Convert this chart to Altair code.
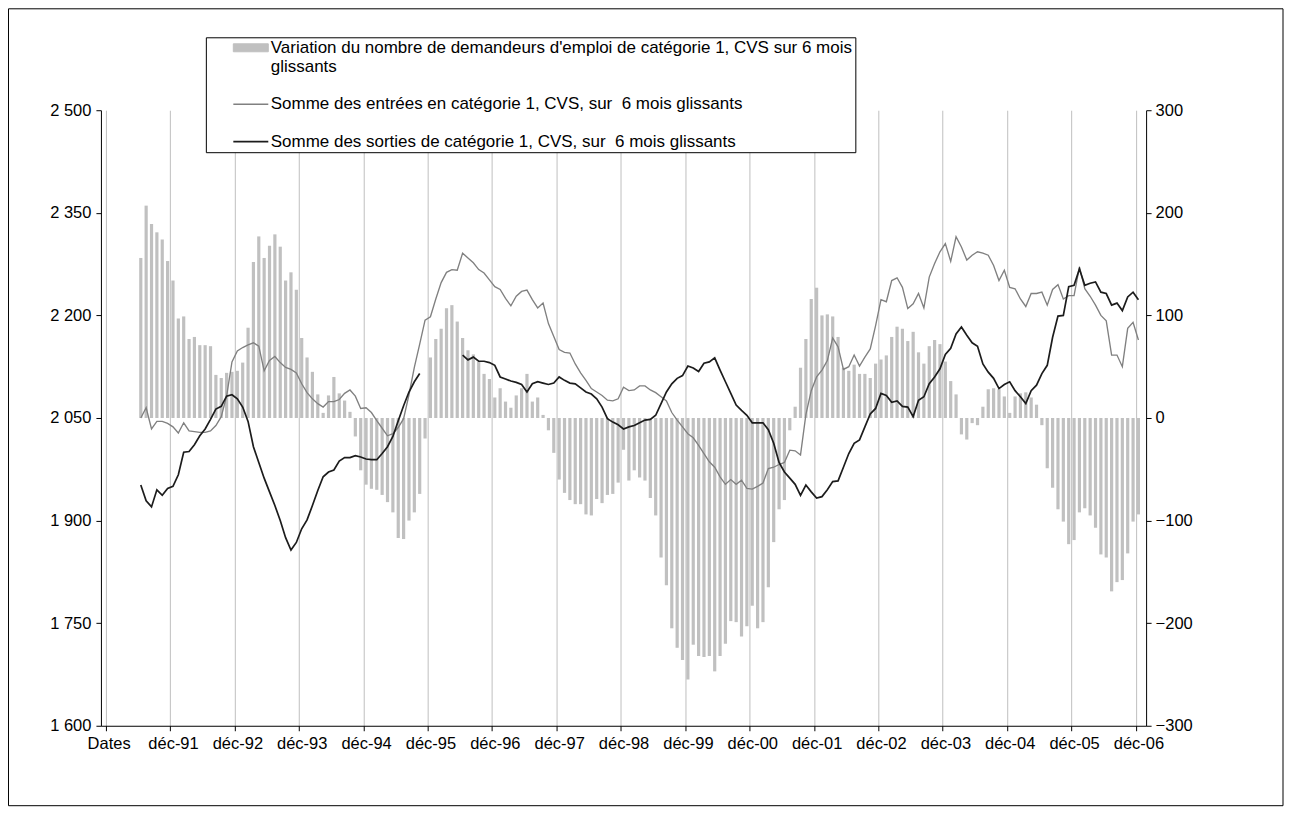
import json
import altair as alt
import pandas as pd

# ---------------- data ----------------
# monthly values, juin-91 ... déc-06 (187 months)
variation = [
    156, 207, 189, 181, 174, 153, 134, 97, 99, 77, 79, 71, 71, 70, 42, 39, 44, 45, 46, 54,
    88, 152, 177, 156, 168, 179, 167, 134, 142, 125, 78, 59, 45, 23, 5, 22, 40, 24, 17, 6,
    -18, -51, -65, -69, -70, -75, -82, -92, -117, -118, -100, -92, -74, -20, 59, 77, 87, 107, 110, 94,
    78, 66, 62, 55, 43, 38, 20, 29, 16, 10, 22, 29, 43, 16, 20, 3, -12, -34, -60, -73,
    -80, -84, -84, -94, -95, -79, -83, -75, -74, -63, -31, -61, -51, -58, -61, -78, -95, -136, -163, -205,
    -224, -236, -255, -221, -232, -233, -232, -247, -232, -220, -198, -199, -213, -203, -183, -205, -199, -165, -121, -89,
    -80, -12, 11, 49, 77, 116, 127, 100, 101, 99, 79, 49, 46, 52, 43, 43, 39, 53, 57, 61,
    79, 89, 87, 75, 84, 64, 53, 70, 76, 72, 55, 36, 23, -16, -21, -5, -7, 11, 28, 29,
    28, 21, 5, 21, 24, 25, 20, 13, -7, -49, -68, -89, -101, -123, -119, -92, -88, -95, -107, -133,
    -136, -169, -160, -158, -132, -101, -94,
]

entrees = [
    2050, 2065, 2034, 2045, 2045, 2042, 2037, 2028, 2043, 2031, 2030, 2029, 2029, 2031, 2039, 2052, 2082, 2132, 2148, 2153,
    2157, 2160, 2155, 2119, 2134, 2140, 2131, 2124, 2121, 2116, 2100, 2087, 2078, 2071, 2066, 2074, 2074, 2077, 2086, 2091,
    2082, 2064, 2065, 2058, 2046, 2035, 2024, 2027, 2036, 2049, 2084, 2124, 2158, 2193, 2198, 2224, 2248, 2263, 2267, 2266,
    2291, 2284, 2277, 2267, 2262, 2252, 2242, 2238, 2225, 2214, 2228, 2235, 2237, 2223, 2211, 2218, 2188, 2169, 2150, 2146,
    2145, 2129, 2116, 2105, 2093, 2088, 2083, 2076, 2075, 2078, 2095, 2090, 2091, 2097, 2097, 2091, 2087, 2081, 2075, 2058,
    2047, 2037, 2027, 2021, 2010, 1998, 1986, 1978, 1964, 1953, 1960, 1953, 1959, 1947, 1946, 1950, 1955, 1976, 1978, 1982,
    1985, 2003, 2002, 1996, 2055, 2090, 2110, 2120, 2134, 2167, 2154, 2121, 2125, 2142, 2126, 2139, 2151, 2185, 2223, 2220,
    2251, 2255, 2241, 2210, 2217, 2232, 2211, 2256, 2276, 2293, 2305, 2279, 2315, 2300, 2281, 2288, 2293, 2291, 2288, 2273,
    2251, 2266, 2241, 2239, 2224, 2213, 2232, 2232, 2234, 2215, 2238, 2245, 2224, 2229, 2229, 2271, 2239, 2228, 2215, 2200,
    2192, 2142, 2142, 2125, 2181, 2190, 2164,
]

sorties = [
    1952, 1929, 1920, 1945, 1937, 1947, 1950, 1967, 2000, 2001, 2011, 2024, 2034, 2048, 2063, 2067, 2082, 2084, 2078, 2066,
    2045, 2008, 1985, 1962, 1942, 1922, 1900, 1875, 1857, 1868, 1888, 1901, 1922, 1944, 1964, 1971, 1974, 1987, 1992, 1992,
    1995, 1993, 1990, 1989, 1989, 1998, 2008, 2023, 2046, 2068, 2088, 2103, 2115, None, None, None, None, None, None, None,
    2142, 2135, 2139, 2133, 2133, 2131, 2127, 2110, 2107, 2104, 2102, 2099, 2088, 2100, 2103, 2101, 2099, 2101, 2110, 2105,
    2101, 2100, 2094, 2088, 2085, 2078, 2066, 2049, 2044, 2040, 2034, 2037, 2039, 2043, 2047, 2048, 2054, 2071, 2088, 2100,
    2108, 2112, 2126, 2123, 2118, 2130, 2132, 2138, 2120, 2103, 2086, 2069, 2061, 2054, 2043, 2043, 2043, 2033, 2013, 1985,
    1971, 1962, 1953, 1937, 1952, 1942, 1933, 1935, 1945, 1957, 1958, 1978, 1998, 2013, 2018, 2037, 2056, 2064, 2086, 2083,
    2073, 2075, 2067, 2066, 2052, 2076, 2081, 2100, 2110, 2122, 2143, 2152, 2173, 2183, 2171, 2160, 2155, 2129, 2117, 2108,
    2093, 2099, 2103, 2090, 2081, 2071, 2090, 2098, 2115, 2127, 2168, 2199, 2200, 2242, 2244, 2268, 2244, 2247, 2249, 2234,
    2232, 2215, 2218, 2207, 2227, 2234, 2223,
]

mois_courts = ["janv", "févr", "mars", "avr", "mai", "juin", "juil", "août", "sept", "oct", "nov", "déc"]
annees = list(range(1991, 2007))
# category axis of the sheet: header cell "Dates" then every month janv-91 ... déc-06
categories = ["Dates"] + [f"{m}-{str(a)[2:]}" for a in annees for m in mois_courts]
premier_mois = "juin-91"
x_labels = categories[::12]  # Dates, déc-91, ..., déc-06

nom_var = "Variation du nombre de demandeurs d'emploi de catégorie 1, CVS sur 6 mois glissants"
nom_ent = "Somme des entrées en catégorie 1, CVS, sur \u00a06 mois glissants"
nom_sor = "Somme des sorties de catégorie 1, CVS, sur \u00a06 mois glissants"
lignes_var = ["Variation du nombre de demandeurs d'emploi de catégorie 1, CVS sur 6 mois\u00a0\u00a0\u00a0\u00a0",
              "glissants"]
series = [nom_var, nom_ent, nom_sor]
couleurs = ["#c0c0c0", "#808080", "#1c1c1c"]
epaisseurs = [1, 1.7, 2.0]

# ---------------- tables ----------------
start = categories.index(premier_mois)
n = len(variation)
bars = pd.DataFrame({
    "c": [start + k for k in range(n)],
    "mois": categories[start:start + n],
    "variation": variation,
})

rows = []
seg = 0
prev_none = True
for k in range(n):
    rows.append({"c": start + k, "serie": nom_ent, "valeur": entrees[k], "segment": "e"})
for k in range(n):
    v = sorties[k]
    if v is None:
        prev_none = True
        continue
    if prev_none:
        seg += 1
        prev_none = False
    rows.append({"c": start + k, "serie": nom_sor, "valeur": v, "segment": f"s{seg}"})
lines = pd.DataFrame(rows)

# ---------------- chart ----------------
W, H = 1046, 616
FONT = "Liberation Sans"
FS = 16.5
FS_LEG = 17
n_cat = len(categories)
x_scale = alt.Scale(domain=[-0.5, n_cat - 0.5], nice=False, zero=False)
half_cat = W / n_cat / 2
tick_vals = [i - 0.5 for i in range(0, n_cat, 12)]
labels_js = json.dumps(x_labels, ensure_ascii=False)
x_axis = alt.Axis(
    values=tick_vals,
    labelExpr=f"{labels_js}[round((datum.value + 0.5) / 12)]",
    labelOffset=half_cat,
    title=None,
    grid=True, gridColor="#bfbfbf", gridWidth=1,
    tickSize=5, tickColor="black", domainColor="black",
    labelFont=FONT, labelFontSize=FS, labelColor="black", labelPadding=5,
    labelAngle=0, labelAlign="center", labelOverlap=False, labelFlush=False,
)

bar_layer = alt.Chart(bars).mark_bar(size=3.2, color=couleurs[0]).encode(
    x=alt.X("c:Q", scale=x_scale, axis=x_axis),
    y=alt.Y("variation:Q",
            scale=alt.Scale(domain=[-300, 300], nice=False),
            axis=alt.Axis(orient="right", values=list(range(-300, 301, 100)), title=None,
                          grid=False, tickSize=5, tickColor="black", domainColor="black",
                          labelFont=FONT, labelFontSize=FS, labelColor="black", labelPadding=4)),
)

var_js = json.dumps(nom_var, ensure_ascii=False)
legend = alt.Legend(
    orient="none", legendX=105, legendY=-73, direction="vertical",
    fillColor="white", strokeColor="black", padding=2,
    labelFont=FONT, labelFontSize=FS_LEG, labelColor="black", labelLimit=900,
    symbolType={"expr": f"datum.value == {var_js} ? 'M-3.5,-0.8H3.5V0.8H-3.5Z' : 'M-3.5,0H3.5'"},
    symbolFillColor={"expr": f"datum.value == {var_js} ? '#c0c0c0' : 'transparent'"},
    symbolStrokeWidth=1.3, symbolSize=100, symbolOffset=34.5, labelOffset=11.5, rowPadding=19.5,
    labelExpr=f"datum.value == {var_js} ? {json.dumps(lignes_var, ensure_ascii=False)} : datum.label",
)

line_layer = alt.Chart(lines).mark_line().encode(
    x=alt.X("c:Q", scale=x_scale, axis=x_axis),
    y=alt.Y("valeur:Q",
            scale=alt.Scale(domain=[1600, 2500], nice=False, zero=False),
            axis=alt.Axis(orient="left", values=list(range(1600, 2501, 150)), title=None,
                          grid=False, tickSize=5, tickColor="black", domainColor="black",
                          labelExpr="replace(format(datum.value, ','), ',', ' ')",
                          labelFont=FONT, labelFontSize=FS, labelColor="black", labelPadding=5)),
    color=alt.Color("serie:N", scale=alt.Scale(domain=series, range=couleurs), title=None, legend=legend),
    strokeWidth=alt.StrokeWidth("serie:N", scale=alt.Scale(domain=series, range=epaisseurs), legend=None),
    detail="segment:N",
)

frame = alt.Chart(alt.Data(values=[{"cadre": 1}])).mark_rect(
    fill="transparent", stroke="black", strokeWidth=1
).encode(
    x=alt.value(-92.5), x2=alt.value(1183), y=alt.value(-101.5), y2=alt.value(696)
)

chart = alt.layer(frame, bar_layer, line_layer).resolve_scale(
    y="independent"
).properties(
    width=W, height=H, padding=0, background="white"
).configure_view(strokeWidth=0)

chart.save("out.html", embed_options={"renderer": "svg", "actions": False})
